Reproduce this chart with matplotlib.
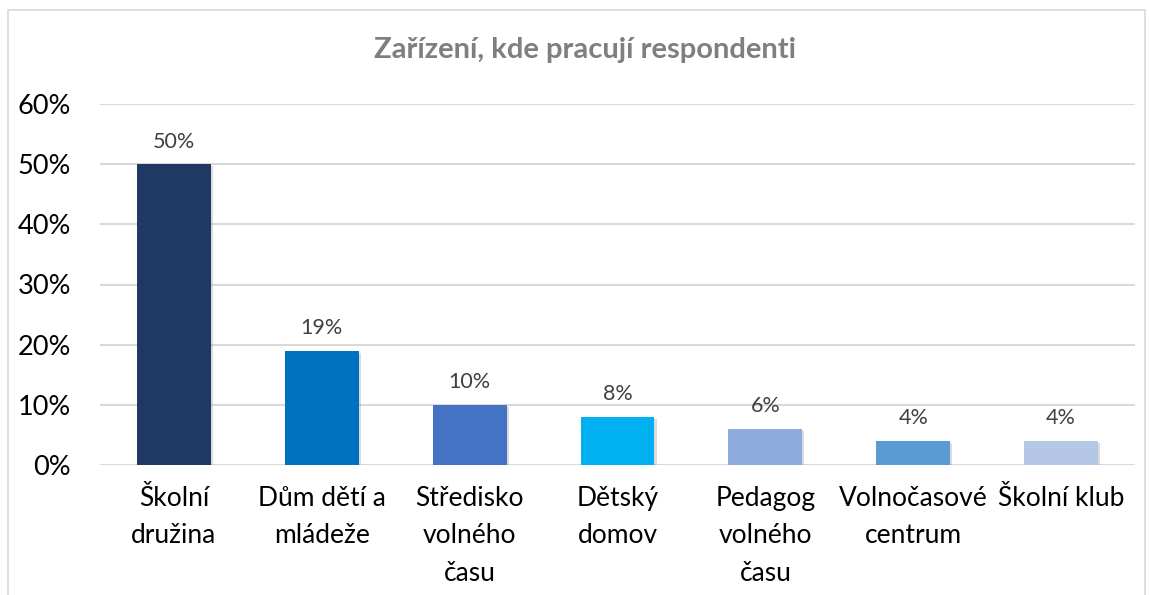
import matplotlib
matplotlib.use("Agg")
import matplotlib.pyplot as plt
from matplotlib.patches import Rectangle
import matplotlib.patheffects as pe
from matplotlib.ticker import FuncFormatter

categories = ["Školní\ndružina", "Dům dětí a\nmládeže", "Středisko\nvolného\nčasu",
              "Dětský\ndomov", "Pedagog\nvolného\nčasu", "Volnočasové\ncentrum", "Školní klub"]
values = [0.50, 0.19, 0.10, 0.08, 0.06, 0.04, 0.04]
labels = ["50%", "19%", "10%", "8%", "6%", "4%", "4%"]
colors = ["#203864", "#0070C0", "#4472C4", "#00B0F0", "#8FAADC", "#5B9BD5", "#B4C7E7"]
title = "Zařízení, kde pracují respondenti"

plt.rcParams['font.family'] = ['Lato', 'DejaVu Sans']

fig = plt.figure(figsize=(11.49, 5.95), dpi=100)
fig.patches.append(Rectangle((8/1149, -0.01), (1145-8)/1149, 1 - 10/595 + 0.01,
                             transform=fig.transFigure, fill=False,
                             edgecolor="#D9D9D9", linewidth=1.2))
ax = fig.add_axes([100/1149, 1-465/595, (1135-100)/1149, (465-104)/595])

x = range(len(categories))
bars = ax.bar(x, values, width=0.5, color=colors, zorder=3)
for b in bars:
    b.set_path_effects([pe.SimplePatchShadow(offset=(1.5, -1.5), shadow_rgbFace="#888888", alpha=0.3),
                        pe.Normal()])
for xi, v, l in zip(x, values, labels):
    ax.annotate(l, (xi, v), xytext=(0, 9), textcoords="offset points",
                ha="center", va="bottom", fontsize=15.5, color="#404040")

ax.set_ylim(0, 0.6)
ax.set_xlim(-0.5, len(categories) - 0.5)
ax.set_yticks([0, 0.1, 0.2, 0.3, 0.4, 0.5, 0.6])
ax.yaxis.set_major_formatter(FuncFormatter(lambda v, p: f"{round(v*100)}%"))
ax.set_xticks(list(x))
ax.set_xticklabels(categories, fontsize=19, linespacing=1.62, va="top")
ax.tick_params(axis="y", labelsize=19.5, length=0, pad=21, colors="#000000")
ax.tick_params(axis="x", length=0, pad=15, colors="#000000")
ax.grid(axis="y", color="#D9D9D9", linewidth=1.5, zorder=0)
for s in ax.spines.values():
    s.set_visible(False)

fig.text(585/1149, 1-50/595, title, ha="center", va="center", fontsize=21,
         fontweight="bold", color="#7F7F7F")

fig.savefig("out.png", dpi=100)
